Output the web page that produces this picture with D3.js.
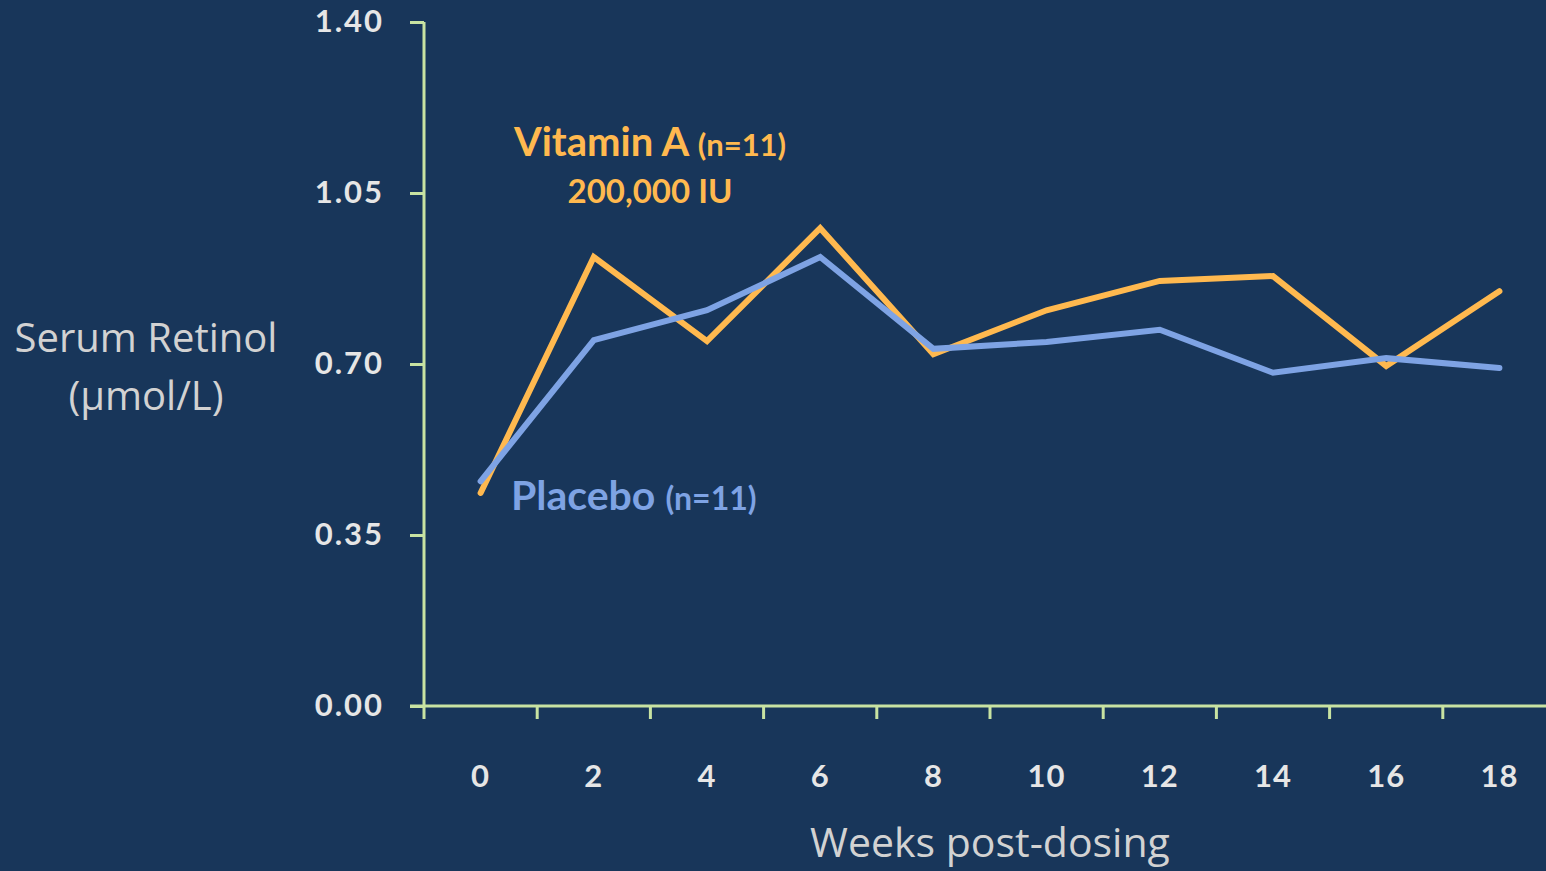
<!DOCTYPE html>
<html>
<head>
<meta charset="utf-8">
<script src="https://cdn.jsdelivr.net/npm/d3@7"></script>
<style>
  html, body { margin: 0; padding: 0; background: #18365a; overflow: hidden; }
  svg { display: block; }
</style>
</head>
<body>
<div id="chart"></div>
<script>
// Data
const weeks = ["0", "2", "4", "6", "8", "10", "12", "14", "16", "18"];
const vitaminA = [0.436, 0.919, 0.747, 0.978, 0.720, 0.810, 0.870, 0.880, 0.696, 0.849];
const placebo = [0.460, 0.749, 0.810, 0.919, 0.731, 0.745, 0.770, 0.682, 0.712, 0.692];
const yTicks = [0, 0.35, 0.70, 1.05, 1.40];

const width = 1546, height = 871;
const axisColor = "#c8e3a2";
const orange = "#ffb94f";
const blue = "#7ea3e4";

const svg = d3.select("#chart")
    .append("svg")
    .attr("width", width)
    .attr("height", height);

const x = d3.scaleBand()
    .domain(weeks)
    .range([424, 1556]);

const y = d3.scaleLinear()
    .domain([0, 1.40])
    .range([706, 22]);

// Y axis
const yAxis = svg.append("g")
    .attr("transform", "translate(424,0)")
    .call(d3.axisLeft(y).tickValues(yTicks).tickFormat(d3.format(".2f")).tickSize(14).tickPadding(26));

yAxis.select(".domain").remove();
yAxis.selectAll(".tick line").attr("stroke", axisColor).attr("stroke-width", 3);
yAxis.selectAll(".tick text")
    .attr("fill", "#e6e6e6")
    .style("font-family", "Lato, sans-serif")
    .style("font-weight", "bold")
    .style("font-size", "31px")
    .style("letter-spacing", "2px");

svg.append("line")
    .attr("x1", 424).attr("x2", 424)
    .attr("y1", y(1.40)).attr("y2", y(0))
    .attr("stroke", axisColor).attr("stroke-width", 3);

// X axis: ticks at band boundaries
svg.append("line")
    .attr("x1", 410).attr("x2", width)
    .attr("y1", y(0)).attr("y2", y(0))
    .attr("stroke", axisColor).attr("stroke-width", 3);

svg.append("g")
    .selectAll("line")
    .data(weeks)
    .enter()
    .append("line")
    .attr("x1", d => x(d)).attr("x2", d => x(d))
    .attr("y1", y(0)).attr("y2", y(0) + 13)
    .attr("stroke", axisColor).attr("stroke-width", 3);

svg.append("g")
    .selectAll("text")
    .data(weeks)
    .enter()
    .append("text")
    .attr("x", d => x(d) + x.bandwidth() / 2)
    .attr("y", 787)
    .attr("text-anchor", "middle")
    .attr("fill", "#e6e6e6")
    .style("font-family", "Lato, sans-serif")
    .style("font-weight", "bold")
    .style("font-size", "31px")
    .style("letter-spacing", "1px")
    .text(d => d);

// Lines
const line = d3.line()
    .x((d, i) => x(weeks[i]) + x.bandwidth() / 2)
    .y(d => y(d));

svg.append("path")
    .datum(vitaminA)
    .attr("d", line)
    .attr("fill", "none")
    .attr("stroke", orange)
    .attr("stroke-width", 6)
    .attr("stroke-linecap", "round");

svg.append("path")
    .datum(placebo)
    .attr("d", line)
    .attr("fill", "none")
    .attr("stroke", blue)
    .attr("stroke-width", 6)
    .attr("stroke-linecap", "round");

// Series labels
const lab = svg.append("text")
    .attr("x", 650).attr("y", 156)
    .attr("text-anchor", "middle")
    .attr("fill", orange)
    .style("font-family", "Lato, sans-serif")
    .style("font-weight", "bold");
lab.append("tspan").style("font-size", "40px").text("Vitamin A ");
lab.append("tspan").style("font-size", "31px").text("(n=11)");

svg.append("text")
    .attr("x", 650).attr("y", 203)
    .attr("text-anchor", "middle")
    .attr("fill", orange)
    .style("font-family", "Lato, sans-serif")
    .style("font-weight", "bold")
    .style("font-size", "33px")
    .text("200,000 IU");

const plab = svg.append("text")
    .attr("x", 511).attr("y", 510)
    .attr("fill", blue)
    .style("font-family", "Lato, sans-serif")
    .style("font-weight", "bold");
plab.append("tspan").style("font-size", "41px").text("Placebo ");
plab.append("tspan").style("font-size", "32px").text("(n=11)");

// Axis titles
const yTitle = svg.append("text")
    .attr("text-anchor", "middle")
    .attr("fill", "#d2d2d2")
    .style("font-family", "'Open Sans', sans-serif")
    .style("font-size", "40px");
yTitle.append("tspan").attr("x", 146).attr("y", 352).text("Serum Retinol");
yTitle.append("tspan").attr("x", 146).attr("y", 410).text("(µmol/L)");

svg.append("text")
    .attr("x", 990).attr("y", 857)
    .attr("text-anchor", "middle")
    .attr("fill", "#d2d2d2")
    .style("font-family", "'Open Sans', sans-serif")
    .style("font-size", "41px")
    .text("Weeks post-dosing");
</script>
</body>
</html>
